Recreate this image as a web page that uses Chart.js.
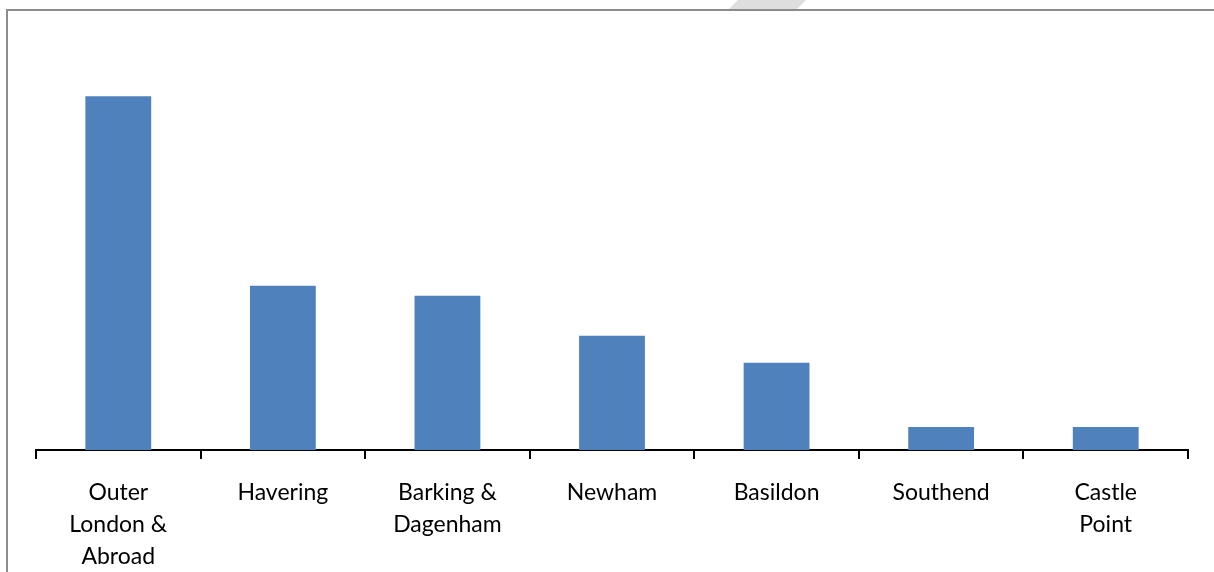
<!DOCTYPE html>
<html lang="en">
<head>
  <meta charset="UTF-8" />
  <title>Chart</title>
  <script src="https://cdn.jsdelivr.net/npm/chart.js"></script>
  <style>
    body { margin: 0; background: #fff; }
    #wrap { width: 1214px; height: 572px; position: relative; }
  </style>
</head>
<body>
  <div id="wrap"><canvas id="c"></canvas></div>
  <script>
    const categories = [
      ["Outer", "London &", "Abroad"],
      ["Havering"],
      ["Barking &", "Dagenham"],
      ["Newham"],
      ["Basildon"],
      ["Southend"],
      ["Castle", "Point"]
    ];
    const values = [35.3, 16.4, 15.4, 11.4, 8.7, 2.3, 2.3];

    // frame and the faint watermark stripe at the top
    const framePlugin = {
      id: "frame",
      beforeDraw(chart) {
        const ctx = chart.ctx;
        ctx.save();
        ctx.fillStyle = "#dedede";
        ctx.beginPath();
        ctx.moveTo(738, 0);
        ctx.lineTo(806, 0);
        ctx.lineTo(795, 11);
        ctx.lineTo(727, 11);
        ctx.closePath();
        ctx.fill();
        ctx.strokeStyle = "#8c8c8c";
        ctx.lineWidth = 2;
        ctx.beginPath();
        ctx.moveTo(7, 600);
        ctx.lineTo(7, 10);
        ctx.lineTo(1220, 10);
        ctx.stroke();
        ctx.restore();
      }
    };

    new Chart(document.getElementById("c"), {
      type: "bar",
      data: {
        labels: categories,
        datasets: [{
          data: values,
          backgroundColor: "#4f81bd",
          barPercentage: 0.4,
          categoryPercentage: 1.0
        }]
      },
      options: {
        responsive: true,
        maintainAspectRatio: false,
        animation: false,
        layout: { padding: { left: 36, right: 26, top: 49, bottom: -19 } },
        plugins: { legend: { display: false }, tooltip: { enabled: false } },
        scales: {
          x: {
            offset: true,
            border: { color: "#000", width: 2 },
            grid: {
              offset: true,
              drawOnChartArea: false,
              drawTicks: true,
              tickLength: 9,
              color: "#000",
              lineWidth: 2
            },
            ticks: {
              color: "#000",
              padding: 18,
              maxRotation: 0,
              autoSkip: false,
              font: { family: "Lato", size: 23, lineHeight: 1.39 }
            }
          },
          y: {
            display: false,
            min: 0,
            max: 40
          }
        }
      },
      plugins: [framePlugin]
    });
  </script>
</body>
</html>
